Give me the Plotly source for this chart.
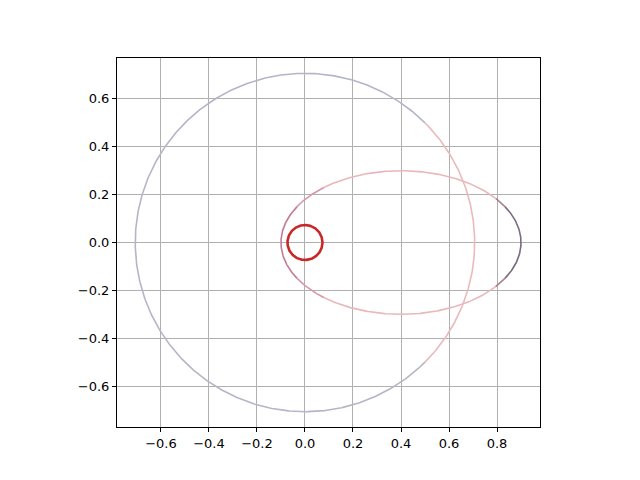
import numpy as np
import plotly.graph_objects as go

# orbit geometry
outer_radius = 0.707
inner_radius = 0.073
ellipse_center = [0.4, 0.0]
ellipse_axes = [0.5, 0.3]

# colour bands along the curves: (start angle, end angle, colour) in degrees
outer_bands = [(-45, 45, "rgb(234,186,188)"),
               (45, 315, "rgb(180,182,200)")]
ellipse_bands = [(-30, 30, "rgb(122,108,126)"),
                 (30, 38, "rgb(170,130,144)"),
                 (38, 130, "rgb(232,184,186)"),
                 (130, 150, "rgb(214,152,166)"),
                 (150, 210, "rgb(194,124,152)"),
                 (210, 230, "rgb(214,152,166)"),
                 (230, 322, "rgb(232,184,186)"),
                 (322, 330, "rgb(170,130,144)")]

x_ticks = [-0.6, -0.4, -0.2, 0.0, 0.2, 0.4, 0.6, 0.8]
y_ticks = [-0.6, -0.4, -0.2, 0.0, 0.2, 0.4, 0.6]


def arc(cx, cy, rx, ry, a0, a1):
    t = np.radians(np.linspace(a0, a1, max(int(abs(a1 - a0)) * 2, 8)))
    return cx + rx * np.cos(t), cy + ry * np.sin(t)


fig = go.Figure()

for a0, a1, col in outer_bands:
    x, y = arc(0, 0, outer_radius, outer_radius, a0, a1)
    fig.add_trace(go.Scatter(x=x, y=y, mode="lines",
                             line=dict(color=col, width=1.6)))

for a0, a1, col in ellipse_bands:
    x, y = arc(ellipse_center[0], ellipse_center[1],
               ellipse_axes[0], ellipse_axes[1], a0, a1)
    fig.add_trace(go.Scatter(x=x, y=y, mode="lines",
                             line=dict(color=col, width=1.6)))

x, y = arc(0, 0, inner_radius, inner_radius, 0, 360)
fig.add_trace(go.Scatter(x=x, y=y, mode="lines",
                         line=dict(color="rgb(200,40,40)", width=2.6)))

axis_style = dict(showgrid=True, gridcolor="#b0b0b0", gridwidth=1,
                  zeroline=False, showline=True, linecolor="black",
                  linewidth=1, mirror=True, ticks="outside", ticklen=4,
                  tickcolor="black", tickformat=".1f",
                  tickfont=dict(family="DejaVu Sans", size=13, color="black"))

# body margin of the page is 8px, so the plot area is shifted up/left by that
fig.update_layout(
    width=640, height=480,
    margin=dict(l=109, r=108, t=50, b=61),
    plot_bgcolor="white", paper_bgcolor="white",
    showlegend=False,
    xaxis=dict(range=[-0.783, 0.979], tickvals=x_ticks, **axis_style),
    yaxis=dict(range=[-0.771, 0.771], tickvals=y_ticks, **axis_style),
)

fig.write_html("out.html")
